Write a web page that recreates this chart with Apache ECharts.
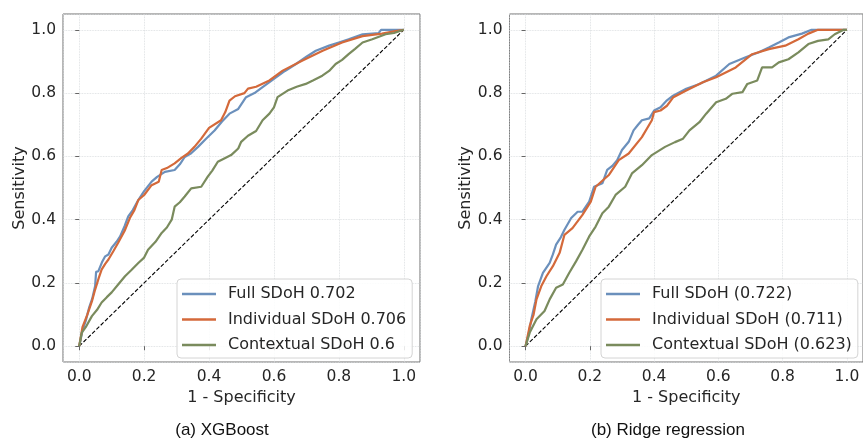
<!DOCTYPE html>
<html>
<head>
<meta charset="utf-8">
<script src="https://cdn.jsdelivr.net/npm/echarts@6/dist/echarts.min.js"></script>
<style>
  html, body { margin: 0; padding: 0; background: #fff; }
  #chart { width: 863px; height: 438px; }
</style>
</head>
<body>
<div id="chart"></div>
<script>
// (a) XGBoost
var fprFullA = [0, 0.01, 0.02, 0.03, 0.04, 0.049, 0.052, 0.059, 0.07, 0.08, 0.09, 0.1, 0.115, 0.126, 0.14, 0.151, 0.165, 0.182, 0.2, 0.223, 0.24, 0.264, 0.294, 0.31, 0.325, 0.345, 0.366, 0.39, 0.417, 0.44, 0.463, 0.49, 0.514, 0.54, 0.565, 0.6, 0.634, 0.668, 0.7, 0.729, 0.77, 0.8, 0.83, 0.873, 0.923, 0.93, 1.0];
var tprFullA = [0, 0.05, 0.08, 0.12, 0.15, 0.19, 0.235, 0.237, 0.265, 0.284, 0.29, 0.311, 0.33, 0.347, 0.38, 0.41, 0.43, 0.462, 0.49, 0.52, 0.535, 0.551, 0.557, 0.575, 0.598, 0.61, 0.63, 0.655, 0.682, 0.71, 0.735, 0.75, 0.787, 0.8, 0.819, 0.845, 0.87, 0.892, 0.915, 0.934, 0.95, 0.96, 0.97, 0.986, 0.99, 1.0, 1.0];
var fprIndA = [0, 0.01, 0.025, 0.04, 0.049, 0.06, 0.069, 0.08, 0.09, 0.105, 0.12, 0.14, 0.156, 0.17, 0.182, 0.2, 0.223, 0.245, 0.254, 0.27, 0.294, 0.315, 0.335, 0.355, 0.376, 0.4, 0.437, 0.45, 0.463, 0.48, 0.509, 0.52, 0.545, 0.586, 0.627, 0.688, 0.75, 0.81, 0.873, 0.933, 0.97, 1.0];
var tprIndA = [0, 0.06, 0.1, 0.145, 0.179, 0.215, 0.242, 0.26, 0.274, 0.3, 0.327, 0.365, 0.405, 0.43, 0.462, 0.478, 0.509, 0.52, 0.557, 0.563, 0.578, 0.595, 0.609, 0.63, 0.656, 0.69, 0.714, 0.74, 0.776, 0.79, 0.8, 0.814, 0.82, 0.84, 0.871, 0.903, 0.934, 0.96, 0.98, 0.988, 0.995, 1.0];
var fprCtxA = [0, 0.008, 0.02, 0.039, 0.055, 0.069, 0.085, 0.1, 0.12, 0.141, 0.16, 0.182, 0.2, 0.212, 0.235, 0.254, 0.27, 0.285, 0.294, 0.31, 0.325, 0.345, 0.376, 0.396, 0.41, 0.427, 0.45, 0.468, 0.49, 0.499, 0.52, 0.545, 0.565, 0.586, 0.6, 0.611, 0.642, 0.67, 0.698, 0.72, 0.749, 0.77, 0.79, 0.81, 0.83, 0.85, 0.873, 0.903, 0.944, 0.97, 1.0];
var tprCtxA = [0, 0.043, 0.06, 0.095, 0.115, 0.138, 0.155, 0.17, 0.195, 0.221, 0.24, 0.263, 0.28, 0.305, 0.33, 0.358, 0.375, 0.4, 0.441, 0.455, 0.473, 0.499, 0.504, 0.536, 0.555, 0.583, 0.595, 0.604, 0.625, 0.646, 0.665, 0.68, 0.714, 0.735, 0.755, 0.787, 0.808, 0.82, 0.829, 0.84, 0.855, 0.87, 0.892, 0.905, 0.923, 0.94, 0.96, 0.97, 0.986, 0.99, 1.0];

// (b) Ridge regression
var fprFullB = [0, 0.01, 0.018, 0.03, 0.039, 0.054, 0.075, 0.085, 0.095, 0.11, 0.121, 0.142, 0.162, 0.177, 0.198, 0.213, 0.239, 0.254, 0.27, 0.285, 0.3, 0.321, 0.336, 0.35, 0.362, 0.385, 0.4, 0.42, 0.44, 0.459, 0.5, 0.541, 0.593, 0.634, 0.685, 0.726, 0.757, 0.788, 0.818, 0.86, 0.89, 1.0];
var tprFullB = [0, 0.04, 0.085, 0.14, 0.19, 0.232, 0.263, 0.29, 0.321, 0.345, 0.368, 0.405, 0.425, 0.425, 0.457, 0.504, 0.515, 0.557, 0.57, 0.588, 0.62, 0.646, 0.682, 0.7, 0.714, 0.72, 0.745, 0.755, 0.777, 0.792, 0.814, 0.829, 0.855, 0.892, 0.913, 0.929, 0.944, 0.96, 0.976, 0.988, 1.0, 1.0];
var fprIndB = [0, 0.013, 0.025, 0.034, 0.049, 0.065, 0.085, 0.106, 0.121, 0.146, 0.177, 0.203, 0.218, 0.259, 0.29, 0.321, 0.362, 0.393, 0.4, 0.42, 0.44, 0.46, 0.5, 0.552, 0.593, 0.654, 0.705, 0.757, 0.808, 0.849, 0.88, 0.91, 1.0];
var tprIndB = [0, 0.064, 0.1, 0.148, 0.19, 0.221, 0.253, 0.295, 0.352, 0.373, 0.415, 0.457, 0.504, 0.541, 0.588, 0.609, 0.661, 0.714, 0.74, 0.745, 0.76, 0.787, 0.808, 0.834, 0.85, 0.881, 0.923, 0.939, 0.95, 0.97, 0.988, 1.0, 1.0];
var fprCtxB = [0, 0.013, 0.034, 0.059, 0.075, 0.095, 0.116, 0.136, 0.157, 0.177, 0.198, 0.218, 0.239, 0.259, 0.28, 0.31, 0.331, 0.362, 0.393, 0.434, 0.465, 0.49, 0.51, 0.541, 0.562, 0.593, 0.623, 0.644, 0.675, 0.69, 0.721, 0.736, 0.767, 0.788, 0.818, 0.849, 0.88, 0.91, 0.942, 0.962, 0.99, 1.0];
var tprCtxB = [0, 0.043, 0.085, 0.111, 0.148, 0.185, 0.195, 0.232, 0.268, 0.305, 0.347, 0.378, 0.42, 0.441, 0.478, 0.504, 0.546, 0.572, 0.604, 0.63, 0.645, 0.656, 0.682, 0.708, 0.735, 0.771, 0.782, 0.798, 0.803, 0.829, 0.84, 0.881, 0.881, 0.897, 0.907, 0.929, 0.955, 0.965, 0.97, 0.986, 1.0, 1.0];

var namesA = ['Full SDoH 0.702', 'Individual SDoH 0.706', 'Contextual SDoH 0.6'];
var namesB = ['Full SDoH (0.722)', 'Individual SDoH (0.711)', 'Contextual SDoH (0.623)'];
var chance = [[0, 0], [1, 1]];

var colors = ['#6b90bc', '#d4693a', '#7a8b5d'];
var font = 'DejaVu Sans';

function zip(xs, ys) {
    return xs.map(function (x, i) { return [x, ys[i]]; });
}

function xAxisFor(gi) {
    return {
        type: 'value', gridIndex: gi, min: -0.05, max: 1.05,
        name: '1 - Specificity', nameLocation: 'middle', nameGap: 24,
        nameTextStyle: { fontFamily: font, fontSize: 16, color: '#262626' },
        axisLine: { show: false },
        axisTick: { show: true, length: 4, lineStyle: { color: '#666' } },
        axisLabel: {
            fontFamily: font, fontSize: 15.5, color: '#262626', margin: 7,
            showMinLabel: false, showMaxLabel: false,
            formatter: function (v) { return v.toFixed(1); }
        },
        splitLine: { show: true, lineStyle: { color: '#d5d9dc', type: 'dotted', width: 0.8 } }
    };
}
function yAxisFor(gi) {
    return {
        type: 'value', gridIndex: gi, min: -0.05, max: 1.05,
        name: 'Sensitivity', nameLocation: 'middle', nameGap: 29,
        nameTextStyle: { fontFamily: font, fontSize: 16, color: '#262626' },
        axisLine: { show: false },
        axisTick: { show: true, length: 4, lineStyle: { color: '#666' } },
        axisLabel: {
            fontFamily: font, fontSize: 15.5, color: '#262626', margin: 7,
            showMinLabel: false, showMaxLabel: false,
            formatter: function (v) { return v.toFixed(1); }
        },
        splitLine: { show: true, lineStyle: { color: '#d5d9dc', type: 'dotted', width: 0.8 } }
    };
}

function curve(name, data, idx, gi) {
    return {
        name: name, type: 'line', xAxisIndex: gi, yAxisIndex: gi,
        data: data, symbol: 'none', animation: false,
        lineStyle: { color: colors[idx], width: 2.2 },
        itemStyle: { color: colors[idx] }
    };
}
function diag(gi) {
    return {
        name: 'chance' + gi, type: 'line', xAxisIndex: gi, yAxisIndex: gi,
        data: chance, symbol: 'none', animation: false, z: 1,
        lineStyle: { color: '#000', width: 1.1, type: [4, 2] }
    };
}
function legendFor(names, left) {
    return {
        data: names, orient: 'vertical', left: left, top: 279,
        icon: 'path://M0,0H34V2.5H0Z',
        itemWidth: 34, itemHeight: 14, itemGap: 9.5,
        padding: [7, 6, 5, 5],
        backgroundColor: 'rgba(255,255,255,0.85)',
        borderColor: '#d4d4d4', borderWidth: 1, borderRadius: 4,
        textStyle: { fontFamily: font, fontSize: 16, color: '#262626', padding: [0, 0, 0, 7] }
    };
}

var chart = echarts.init(document.getElementById('chart'));
var option = {
    backgroundColor: '#fff',
    animation: false,
    grid: [
        { left: 63, top: 14, width: 357, height: 348, show: true, borderColor: '#6e6e6e', borderWidth: 1 },
        { left: 509.5, top: 14, width: 357.5, height: 348, show: true, borderColor: '#6e6e6e', borderWidth: 1 }
    ],
    xAxis: [xAxisFor(0), xAxisFor(1)],
    yAxis: [yAxisFor(0), yAxisFor(1)],
    legend: [legendFor(namesA, 177), legendFor(namesB, 601)],
    title: [
        { text: '(a) XGBoost', left: 217, top: 417, textAlign: 'center',
          textStyle: { fontFamily: 'Liberation Sans', fontSize: 17, fontWeight: 'normal', color: '#111' } },
        { text: '(b) Ridge regression', left: 663, top: 417, textAlign: 'center',
          textStyle: { fontFamily: 'Liberation Sans', fontSize: 17, fontWeight: 'normal', color: '#111' } }
    ],
    series: [
        diag(0),
        curve(namesA[0], zip(fprFullA, tprFullA), 0, 0),
        curve(namesA[1], zip(fprIndA, tprIndA), 1, 0),
        curve(namesA[2], zip(fprCtxA, tprCtxA), 2, 0),
        diag(1),
        curve(namesB[0], zip(fprFullB, tprFullB), 0, 1),
        curve(namesB[1], zip(fprIndB, tprIndB), 1, 1),
        curve(namesB[2], zip(fprCtxB, tprCtxB), 2, 1)
    ]
};
chart.setOption(option);
</script>
</body>
</html>
